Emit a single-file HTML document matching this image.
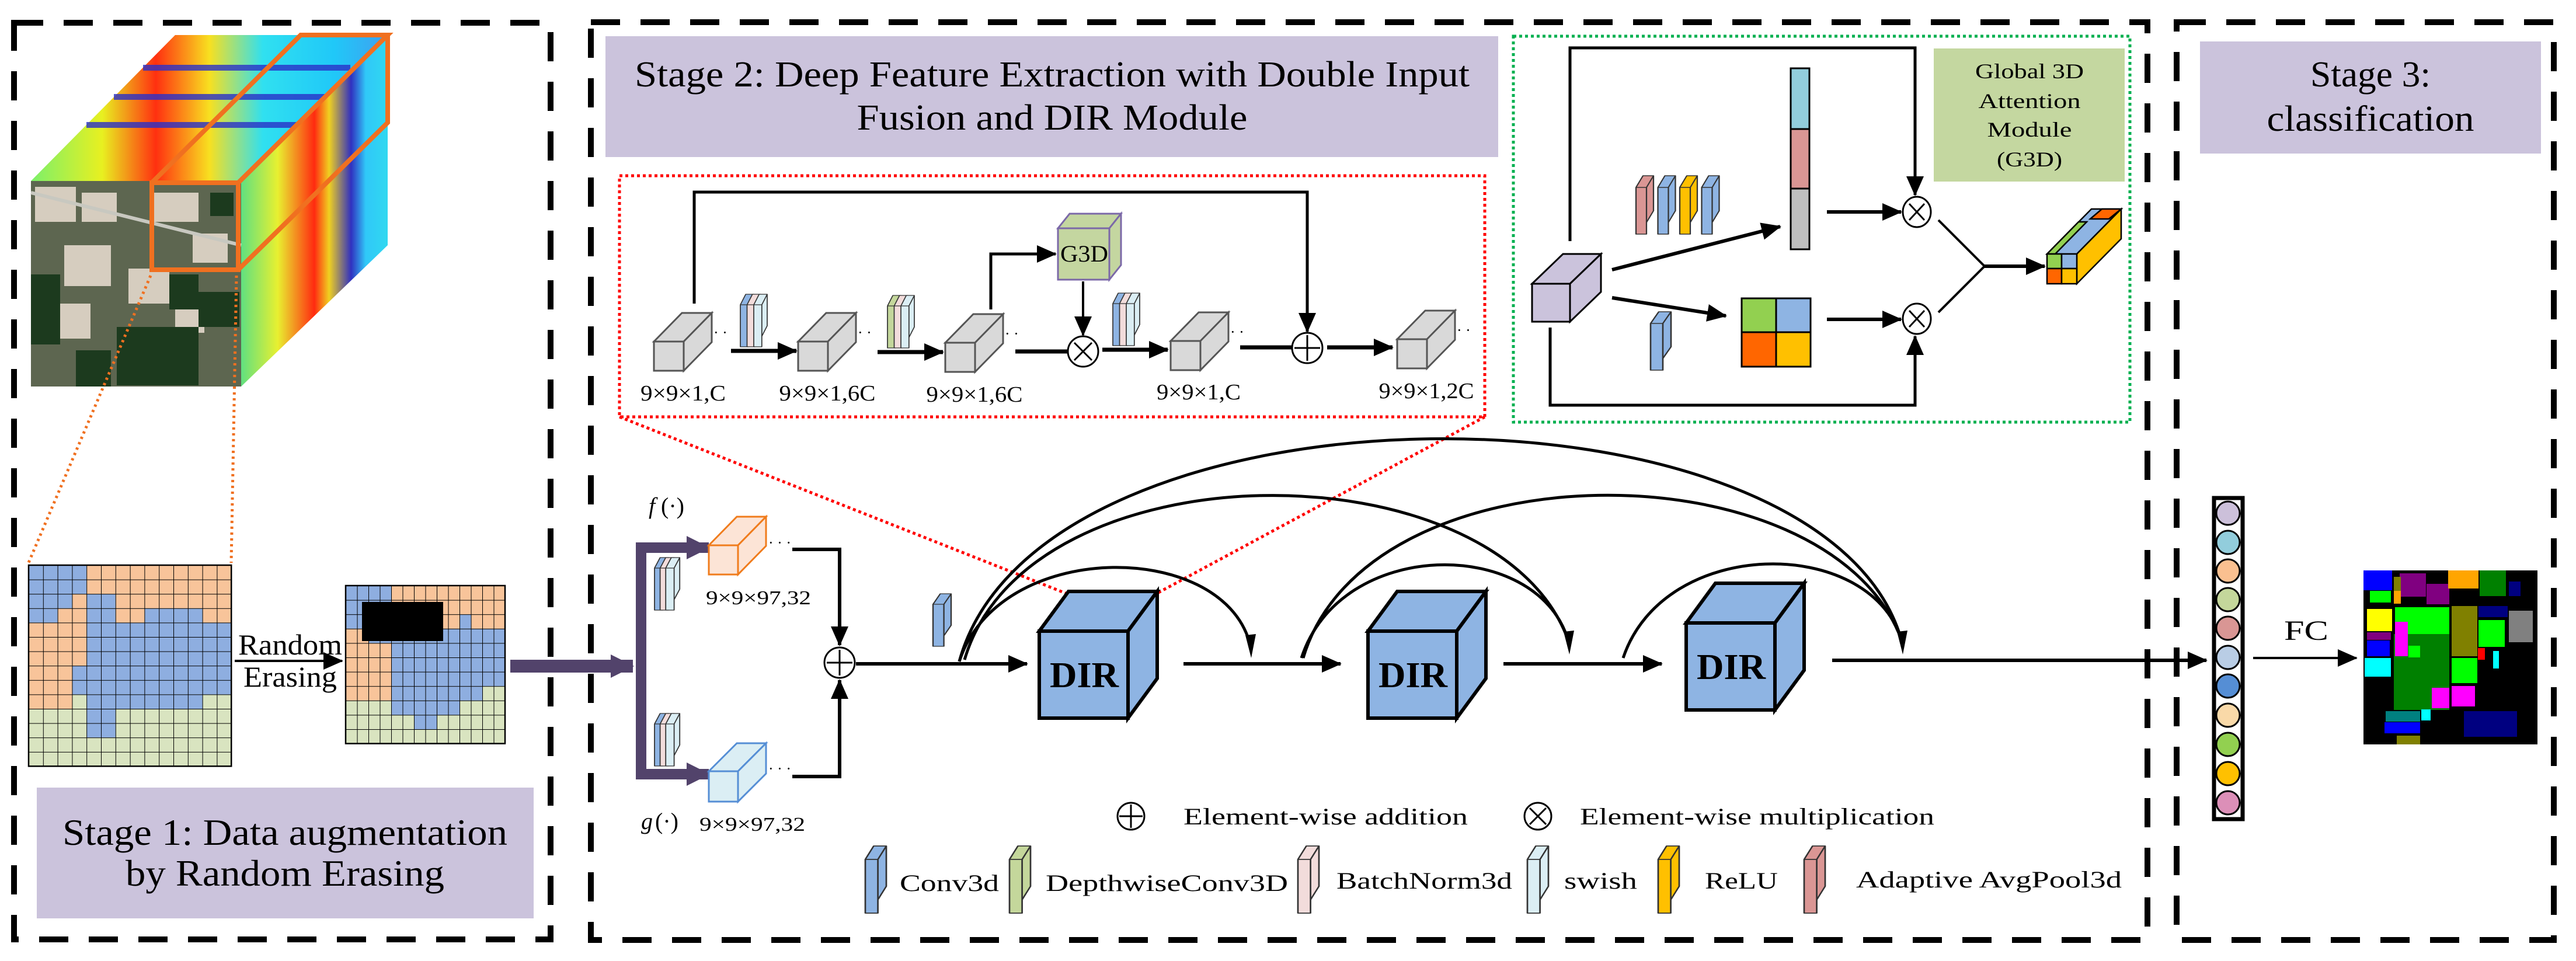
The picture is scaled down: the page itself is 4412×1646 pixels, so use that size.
<!DOCTYPE html>
<html><head><meta charset="utf-8"><style>html,body{margin:0;padding:0;background:#fff}svg{display:block}text{font-family:"Liberation Serif",serif;fill:#000}</style></head><body>
<svg width="4412" height="1646" viewBox="0 0 4412 1646" xmlns="http://www.w3.org/2000/svg">
<defs>
<marker id="ah" markerUnits="userSpaceOnUse" markerWidth="34" markerHeight="30" refX="32" refY="15" orient="auto"><path d="M0,0 L34,15 L0,30 Z" fill="#000"/></marker>
<marker id="ahp" markerUnits="userSpaceOnUse" markerWidth="40" markerHeight="40" refX="38" refY="20" orient="auto"><path d="M0,0 L40,20 L0,40 Z" fill="#52436b"/></marker>
<g id="slab"><path d="M0,0h12v80h-12z M0,0 l8,-20 h12 l-8,20z M12,0 l8,-20 v60 l-8,20z" stroke="#333" stroke-width="1.5" stroke-linejoin="round"/></g>
<g id="gcube" fill="#d9d9d9" stroke="#555" stroke-width="3"><path d="M0,0h51v50h-51z"/><path d="M0,0 L48,-49 L99,-49 L51,0 Z"/><path d="M51,0 L99,-49 L99,1 L51,50 Z"/></g>
<g id="dcube" fill="#8eb4e3" stroke="#000" stroke-width="6"><path d="M0,0 L50,-68 L202,-68 L152,0 Z"/><path d="M152,0 L202,-68 L202,81 L152,149 Z"/><path d="M0,0h152v149h-152z"/></g>
<pattern id="g1" patternUnits="userSpaceOnUse" x="49" y="968" width="24.8" height="24.6"><path d="M0,0H24.8M0,0V24.6" stroke="#000" stroke-width="2" fill="none"/></pattern>
<pattern id="g2" patternUnits="userSpaceOnUse" x="592" y="1003" width="19.5" height="24.6"><path d="M0,0H19.5M0,0V24.6" stroke="#000" stroke-width="2" fill="none"/></pattern>
<linearGradient id="topg" x1="0" y1="0" x2="1" y2="0"><stop offset="0" stop-color="#7cf06a"/><stop offset="0.2" stop-color="#e8f020"/><stop offset="0.35" stop-color="#ff3010"/><stop offset="0.5" stop-color="#f8e020"/><stop offset="0.65" stop-color="#30e0f0"/><stop offset="0.85" stop-color="#20c8f8"/><stop offset="1" stop-color="#40a0f0"/></linearGradient>
<linearGradient id="rg" x1="0" y1="0" x2="1" y2="0"><stop offset="0" stop-color="#60e080"/><stop offset="0.25" stop-color="#e8f030"/><stop offset="0.5" stop-color="#ff2a10"/><stop offset="0.6" stop-color="#f0d020"/><stop offset="0.75" stop-color="#3030c0"/><stop offset="0.85" stop-color="#30c8f8"/><stop offset="1" stop-color="#30d8f0"/></linearGradient>
</defs>

<g fill="none" stroke="#000" stroke-width="10" stroke-dasharray="50 35">
<rect x="24" y="39" width="919" height="1570"/>
<rect x="1012" y="38" width="2666" height="1572"/>
<rect x="3728" y="38" width="646" height="1572"/>
</g>

<polygon points="53,310 300,60 664,60 413,310" fill="url(#topg)"/>
<g stroke="#2a30c8" stroke-width="10" opacity="0.8"><line x1="245" y1="116" x2="600" y2="116"/><line x1="195" y1="166" x2="560" y2="166"/><line x1="148" y1="214" x2="510" y2="214"/></g>
<polygon points="413,310 664,60 664,420 413,662" fill="url(#rg)"/>
<rect x="53" y="310" width="360" height="352" fill="#5d6650"/>
<g fill="#d6cdbf"><rect x="60" y="320" width="70" height="60"/><rect x="140" y="330" width="60" height="50"/><rect x="110" y="420" width="80" height="70"/><rect x="260" y="330" width="80" height="50"/><rect x="220" y="460" width="70" height="60"/><rect x="95" y="520" width="60" height="60"/><rect x="330" y="400" width="60" height="50"/><rect x="300" y="530" width="50" height="40"/></g>
<g fill="#1c3a1e"><rect x="53" y="470" width="50" height="120"/><rect x="200" y="560" width="140" height="100"/><rect x="290" y="470" width="50" height="60"/><rect x="360" y="330" width="40" height="40"/><rect x="340" y="500" width="70" height="60"/><rect x="130" y="600" width="60" height="62"/></g>
<line x1="53" y1="330" x2="413" y2="420" stroke="#c8c8c0" stroke-width="6"/>
<g fill="none" stroke="#f07020" stroke-width="8"><rect x="260" y="313" width="148" height="149"/><polyline points="260,313 515,60 664,60 408,313"/><polyline points="408,462 664,210 664,60"/></g>
<g stroke="#f07020" stroke-width="5" stroke-dasharray="4 6" fill="none"><line x1="258" y1="472" x2="48" y2="966"/><line x1="405" y1="472" x2="396" y2="964"/></g>

<rect x="49" y="968" width="347.2" height="344.4" fill="#d9e4c0"/>
<g fill="#8eaee0"><rect x="49" y="968" width="99.2" height="49.2"/><rect x="49" y="1017.2" width="74.4" height="24.6"/><rect x="148.2" y="1017.2" width="49.6" height="24.6"/><rect x="49" y="1041.8" width="49.6" height="24.6"/><rect x="148.2" y="1041.8" width="49.6" height="24.6"/><rect x="247.4" y="1041.8" width="99.2" height="24.6"/><rect x="148.2" y="1066.4" width="248" height="73.8"/><rect x="123.4" y="1140.2" width="272.8" height="49.2"/><rect x="148.2" y="1189.4" width="198.4" height="24.6"/><rect x="148.2" y="1214" width="49.6" height="49.2"/></g>
<g fill="#f8c49a"><rect x="148.2" y="968" width="248" height="49.2"/><rect x="123.4" y="1017.2" width="24.8" height="24.6"/><rect x="197.8" y="1017.2" width="198.4" height="24.6"/><rect x="98.6" y="1041.8" width="49.6" height="24.6"/><rect x="197.8" y="1041.8" width="49.6" height="24.6"/><rect x="346.6" y="1041.8" width="49.6" height="24.6"/><rect x="49" y="1066.4" width="99.2" height="73.8"/><rect x="49" y="1140.2" width="74.4" height="73.8"/></g>
<rect x="49" y="968" width="347.2" height="344.4" fill="url(#g1)" stroke="#000" stroke-width="2.5"/>

<text x="497" y="1121" font-size="50" text-anchor="middle" textLength="178" lengthAdjust="spacingAndGlyphs">Random</text>
<text x="497" y="1176" font-size="50" text-anchor="middle" textLength="160" lengthAdjust="spacingAndGlyphs">Erasing</text>
<line x1="402" y1="1132" x2="586" y2="1132" stroke="#000" stroke-width="4" marker-end="url(#ah)"/>

<rect x="592" y="1003" width="273" height="270.6" fill="#d9e4c0"/>
<g fill="#8eaee0"><rect x="592" y="1003" width="78" height="73.8"/><rect x="787" y="1052.2" width="19.5" height="24.6"/><rect x="631" y="1076.8" width="234" height="24.6"/><rect x="670" y="1101.4" width="195" height="73.8"/><rect x="670" y="1175.2" width="156" height="24.6"/><rect x="670" y="1199.8" width="117" height="24.6"/><rect x="709" y="1224.4" width="39" height="24.6"/></g>
<g fill="#f8c49a"><rect x="670" y="1003" width="195" height="49.2"/><rect x="670" y="1052.2" width="117" height="24.6"/><rect x="806.5" y="1052.2" width="58.5" height="24.6"/><rect x="592" y="1076.8" width="39" height="24.6"/><rect x="592" y="1101.4" width="78" height="98.4"/></g>
<rect x="592" y="1003" width="273" height="270.6" fill="url(#g2)" stroke="#000" stroke-width="2.5"/>
<rect x="620" y="1031" width="139" height="67" fill="#000"/>

<rect x="63" y="1349" width="851" height="224" fill="#cbc3dc"/>
<text x="488" y="1447" font-size="64" text-anchor="middle" textLength="762" lengthAdjust="spacingAndGlyphs">Stage 1: Data augmentation</text>
<text x="488" y="1517" font-size="64" text-anchor="middle" textLength="546" lengthAdjust="spacingAndGlyphs">by Random Erasing</text>

<line x1="874" y1="1141" x2="1084" y2="1141" stroke="#52436b" stroke-width="22" marker-end="url(#ahp)"/>
<rect x="1089" y="929" width="18" height="406" fill="#52436b"/>
<line x1="1089" y1="938" x2="1214" y2="938" stroke="#52436b" stroke-width="18" marker-end="url(#ahp)"/>
<line x1="1089" y1="1326" x2="1214" y2="1326" stroke="#52436b" stroke-width="18" marker-end="url(#ahp)"/>

<rect x="1037" y="62" width="1529" height="207" fill="#cbc3dc"/>
<text x="1802" y="148" font-size="62" text-anchor="middle" textLength="1430" lengthAdjust="spacingAndGlyphs">Stage 2: Deep Feature Extraction with Double Input</text>
<text x="1802" y="222" font-size="62" text-anchor="middle" textLength="669" lengthAdjust="spacingAndGlyphs">Fusion and DIR Module</text>

<rect x="1061" y="301" width="1482" height="413" fill="none" stroke="#f00" stroke-width="5" stroke-dasharray="5 5"/>
<g stroke="#f00" stroke-width="5" stroke-dasharray="5 5"><line x1="1061" y1="714" x2="1825" y2="1016"/><line x1="2543" y1="714" x2="1982" y2="1016"/></g>

<use href="#gcube" transform="translate(1120,585)"/>
<use href="#gcube" transform="translate(1367,585)"/>
<use href="#gcube" transform="translate(1619,587)"/>
<use href="#gcube" transform="translate(2005,584)"/>
<use href="#gcube" transform="translate(2393,581)"/>
<g font-size="26" fill="#000"><text x="1222" y="578">· ·</text><text x="1469" y="578">· ·</text><text x="1721" y="580">· ·</text><text x="2107" y="577">· ·</text><text x="2495" y="574">· ·</text></g>
<g transform="translate(1268,522) scale(1.15,0.9)"><use href="#slab" fill="#8eb4e3"/><use href="#slab" x="10" fill="#f2dcdb"/><use href="#slab" x="20" fill="#dbeef4"/></g>
<g transform="translate(1520,524) scale(1.15,0.9)"><use href="#slab" fill="#c4d79b"/><use href="#slab" x="10" fill="#f2dcdb"/><use href="#slab" x="20" fill="#dbeef4"/></g>
<g transform="translate(1906,520) scale(1.15,0.9)"><use href="#slab" fill="#8eb4e3"/><use href="#slab" x="10" fill="#f2dcdb"/><use href="#slab" x="20" fill="#dbeef4"/></g>
<g stroke="#000" stroke-width="7" fill="none">
<line x1="1252" y1="601" x2="1364" y2="601" marker-end="url(#ah)"/>
<line x1="1503" y1="603" x2="1615" y2="603" marker-end="url(#ah)"/>
<line x1="1739" y1="602" x2="1829" y2="602"/>
<line x1="1888" y1="599" x2="2000" y2="599" marker-end="url(#ah)"/>
<line x1="2124" y1="595" x2="2213" y2="595"/>
<line x1="2273" y1="595" x2="2385" y2="595" marker-end="url(#ah)"/>
<polyline points="1697,530 1697,435 1808,435" marker-end="url(#ah)" stroke-width="5"/>
<line x1="1855" y1="482" x2="1855" y2="574" marker-end="url(#ah)" stroke-width="4"/>
<polyline points="1189,520 1189,329 2239,329 2239,568" marker-end="url(#ah)" stroke-width="5"/>
</g>
<g fill="#fff" stroke="#000" stroke-width="3"><circle cx="1855" cy="602" r="26"/><circle cx="2239" cy="596" r="26"/></g>
<g stroke="#000" stroke-width="3"><line x1="1840" y1="587" x2="1870" y2="617"/><line x1="1870" y1="587" x2="1840" y2="617"/><line x1="2239" y1="574" x2="2239" y2="618"/><line x1="2217" y1="596" x2="2261" y2="596"/></g>
<g fill="#c4d6a0" stroke="#7b68a8" stroke-width="3"><path d="M1812,391 L1832,366 L1920,366 L1900,391 Z"/><path d="M1900,391 L1920,366 L1920,454 L1900,479 Z"/><rect x="1812" y="391" width="88" height="88"/></g>
<text x="1857" y="448" font-size="40" text-anchor="middle" textLength="82" lengthAdjust="spacingAndGlyphs">G3D</text>
<g font-size="38" text-anchor="middle"><text x="1170" y="686" textLength="146" lengthAdjust="spacingAndGlyphs">9×9×1,C</text><text x="1417" y="686" textLength="165" lengthAdjust="spacingAndGlyphs">9×9×1,6C</text><text x="1669" y="688" textLength="165" lengthAdjust="spacingAndGlyphs">9×9×1,6C</text><text x="2053" y="684" textLength="144" lengthAdjust="spacingAndGlyphs">9×9×1,C</text><text x="2443" y="682" textLength="163" lengthAdjust="spacingAndGlyphs">9×9×1,2C</text></g>

<rect x="2592" y="62" width="1056" height="661" fill="none" stroke="#00b050" stroke-width="5" stroke-dasharray="5 5"/>
<rect x="3312" y="83" width="327" height="228" fill="#c4d7a0"/>
<g font-size="36" text-anchor="middle"><text x="3476" y="134" textLength="186" lengthAdjust="spacingAndGlyphs">Global 3D</text><text x="3476" y="185" textLength="175" lengthAdjust="spacingAndGlyphs">Attention</text><text x="3476" y="234" textLength="145" lengthAdjust="spacingAndGlyphs">Module</text><text x="3476" y="285" textLength="112" lengthAdjust="spacingAndGlyphs">(G3D)</text></g>
<g fill="#cbc3dc" stroke="#000" stroke-width="3"><path d="M2624,486 L2677,435 L2742,435 L2689,486 Z"/><path d="M2689,486 L2742,435 L2742,500 L2689,551 Z"/><rect x="2624" y="486" width="65" height="65"/></g>
<g stroke="#000" stroke-width="6" fill="none">
<polyline points="2689,413 2689,82 3280,82 3280,334" marker-end="url(#ah)" stroke-width="5"/>
<polyline points="2655,561 2655,694 3280,694 3280,576" marker-end="url(#ah)" stroke-width="5"/>
<line x1="2761" y1="462" x2="3049" y2="388" marker-end="url(#ah)"/>
<line x1="2761" y1="510" x2="2956" y2="541" marker-end="url(#ah)"/>
<line x1="3129" y1="363" x2="3256" y2="363" marker-end="url(#ah)"/>
<line x1="3129" y1="547" x2="3256" y2="547" marker-end="url(#ah)"/>
<polyline points="3320,377 3399,456 3320,535" stroke-width="4"/>
<line x1="3399" y1="456" x2="3502" y2="456" marker-end="url(#ah)"/>
</g>
<g stroke="#000" stroke-width="3"><rect x="3067" y="117" width="32" height="104" fill="#92cddc"/><rect x="3067" y="221" width="32" height="102" fill="#da9694"/><rect x="3067" y="323" width="32" height="104" fill="#bfbfbf"/></g>
<g fill="#fff" stroke="#000" stroke-width="3"><ellipse cx="3283" cy="363" rx="24" ry="26"/><ellipse cx="3283" cy="546" rx="24" ry="26"/></g>
<g stroke="#000" stroke-width="3"><line x1="3270" y1="349" x2="3296" y2="377"/><line x1="3296" y1="349" x2="3270" y2="377"/><line x1="3270" y1="532" x2="3296" y2="560"/><line x1="3296" y1="532" x2="3270" y2="560"/></g>
<g transform="translate(2802,321) scale(1.5,1)"><use href="#slab" fill="#da9694"/><use href="#slab" x="25" fill="#8eb4e3"/><use href="#slab" x="50" fill="#ffc000"/><use href="#slab" x="75" fill="#8eb4e3"/></g>
<g transform="translate(2827,554) scale(1.75,1)"><use href="#slab" fill="#8eb4e3"/></g>
<g stroke="#000" stroke-width="3"><rect x="2983" y="511" width="59" height="58" fill="#92d050"/><rect x="3042" y="511" width="59" height="58" fill="#8eb4e3"/><rect x="2983" y="569" width="59" height="59" fill="#ff6600"/><rect x="3042" y="569" width="59" height="59" fill="#ffc000"/></g>
<g stroke="#000" stroke-width="2.5">
<path d="M3506,435 L3582,358 L3633,358 L3557,435 Z" fill="#8eb4e3"/>
<path d="M3506,435 L3560,380 L3574,380 L3520,435 Z" fill="#92d050"/>
<path d="M3557,435 L3633,358 L3633,409 L3557,486 Z" fill="#ffc000"/>
<path d="M3580,375 L3600,358 L3633,358 L3612,375 Z" fill="#ff6600"/>
<rect x="3506" y="435" width="25" height="25" fill="#92d050"/><rect x="3531" y="435" width="26" height="25" fill="#8eb4e3"/><rect x="3506" y="460" width="25" height="26" fill="#ff6600"/><rect x="3531" y="460" width="26" height="26" fill="#ffc000"/>
</g>

<text x="1111" y="880" font-size="40" font-style="italic">f</text><text x="1132" y="880" font-size="40">(·)</text>
<text x="1098" y="1420" font-size="40" font-style="italic">g</text><text x="1122" y="1420" font-size="40">(·)</text>
<g transform="translate(1121,973) scale(1.2,0.9)"><use href="#slab" fill="#8eb4e3"/><use href="#slab" x="8" fill="#f2dcdb"/><use href="#slab" x="16" fill="#dbeef4"/></g>
<g transform="translate(1121,1240) scale(1.2,0.9)"><use href="#slab" fill="#8eb4e3"/><use href="#slab" x="8" fill="#f2dcdb"/><use href="#slab" x="16" fill="#dbeef4"/></g>
<g fill="#fce4d6" stroke="#f07c1c" stroke-width="3"><path d="M1214,934 L1262,885 L1312,885 L1264,934 Z"/><path d="M1264,934 L1312,885 L1312,935 L1264,984 Z"/><rect x="1214" y="934" width="50" height="50"/></g>
<g fill="#dbeef4" stroke="#558ed5" stroke-width="3"><path d="M1214,1321 L1262,1273 L1312,1273 L1264,1321 Z"/><path d="M1264,1321 L1312,1273 L1312,1325 L1264,1373 Z"/><rect x="1214" y="1321" width="50" height="52"/></g>
<g font-size="26"><text x="1316" y="938">· · ·</text><text x="1316" y="1325">· · ·</text></g>
<g font-size="34"><text x="1209" y="1035" textLength="180" lengthAdjust="spacingAndGlyphs">9×9×97,32</text><text x="1198" y="1423" textLength="181" lengthAdjust="spacingAndGlyphs">9×9×97,32</text></g>
<g stroke="#000" stroke-width="6" fill="none">
<polyline points="1357,941 1438,941 1438,1105" marker-end="url(#ah)"/>
<polyline points="1357,1330 1438,1330 1438,1165" marker-end="url(#ah)"/>
<line x1="1466" y1="1137" x2="1759" y2="1137" marker-end="url(#ah)"/>
<line x1="2027" y1="1137" x2="2296" y2="1137" marker-end="url(#ah)"/>
<line x1="2575" y1="1137" x2="2846" y2="1137" marker-end="url(#ah)"/>
<line x1="3138" y1="1131" x2="3779" y2="1131" marker-end="url(#ah)"/>
</g>
<circle cx="1438" cy="1135" r="26" fill="#fff" stroke="#000" stroke-width="3"/>
<g stroke="#000" stroke-width="3"><line x1="1438" y1="1113" x2="1438" y2="1157"/><line x1="1416" y1="1135" x2="1460" y2="1135"/></g>
<g transform="translate(1598,1035) scale(1.55,0.9)"><use href="#slab" fill="#8eb4e3"/></g>

<use href="#dcube" transform="translate(1780,1081)"/>
<use href="#dcube" transform="translate(2343,1081)"/>
<use href="#dcube" transform="translate(2888,1067)"/>
<g font-size="62" font-weight="bold" text-anchor="middle"><text x="1857" y="1177" textLength="118" lengthAdjust="spacingAndGlyphs">DIR</text><text x="2420" y="1177" textLength="118" lengthAdjust="spacingAndGlyphs">DIR</text><text x="2965" y="1163" textLength="118" lengthAdjust="spacingAndGlyphs">DIR</text></g>

<g fill="none" stroke="#000" stroke-width="5">
<path d="M1643,1133 C1710,924 2090,924 2140,1100"/>
<path d="M2229,1127 C2296,920 2630,920 2685,1094"/>
<path d="M2780,1127 C2850,918 3200,918 3256,1094"/>
<path d="M1652,1130 C1760,761 2560,761 2685,1094"/>
<path d="M2232,1127 C2340,761 3130,761 3256,1094"/>
<path d="M1643,1133 C1780,631 3120,631 3256,1094"/>
</g>
<g fill="#000"><polygon points="2133,1088 2151,1086 2143,1127"/><polygon points="2678,1082 2696,1080 2688,1121"/><polygon points="3249,1082 3267,1080 3259,1121"/></g>

<circle cx="1937" cy="1398" r="23" fill="#fff" stroke="#000" stroke-width="3"/>
<g stroke="#000" stroke-width="3"><line x1="1937" y1="1378" x2="1937" y2="1418"/><line x1="1917" y1="1398" x2="1957" y2="1398"/></g>
<text x="2027" y="1412" font-size="40" textLength="487" lengthAdjust="spacingAndGlyphs">Element-wise addition</text>
<circle cx="2634" cy="1398" r="23" fill="#fff" stroke="#000" stroke-width="3"/>
<g stroke="#000" stroke-width="3"><line x1="2620" y1="1384" x2="2648" y2="1412"/><line x1="2648" y1="1384" x2="2620" y2="1412"/></g>
<text x="2706" y="1412" font-size="40" textLength="607" lengthAdjust="spacingAndGlyphs">Element-wise multiplication</text>
<g transform="translate(1482,1472) scale(1.8,1.15)"><use href="#slab" fill="#8eb4e3"/></g>
<g transform="translate(1729,1472) scale(1.8,1.15)"><use href="#slab" fill="#c4d79b"/></g>
<g transform="translate(2223,1472) scale(1.8,1.15)"><use href="#slab" fill="#f2dcdb"/></g>
<g transform="translate(2616,1472) scale(1.8,1.15)"><use href="#slab" fill="#dbeef4"/></g>
<g transform="translate(2840,1472) scale(1.8,1.15)"><use href="#slab" fill="#ffc000"/></g>
<g transform="translate(3090,1472) scale(1.8,1.15)"><use href="#slab" fill="#da9694"/></g>
<g font-size="40"><text x="1541" y="1526" textLength="170" lengthAdjust="spacingAndGlyphs">Conv3d</text><text x="1791" y="1526" textLength="415" lengthAdjust="spacingAndGlyphs">DepthwiseConv3D</text><text x="2289" y="1522" textLength="301" lengthAdjust="spacingAndGlyphs">BatchNorm3d</text><text x="2679" y="1522" textLength="125" lengthAdjust="spacingAndGlyphs">swish</text><text x="2920" y="1522" textLength="125" lengthAdjust="spacingAndGlyphs">ReLU</text><text x="3179" y="1520" textLength="455" lengthAdjust="spacingAndGlyphs">Adaptive AvgPool3d</text></g>

<rect x="3768" y="71" width="584" height="192" fill="#cbc3dc"/>
<g font-size="62" text-anchor="middle"><text x="4060" y="148" textLength="206" lengthAdjust="spacingAndGlyphs">Stage 3:</text><text x="4060" y="224" textLength="355" lengthAdjust="spacingAndGlyphs">classification</text></g>
<rect x="3792" y="853" width="49" height="550" fill="#fff" stroke="#000" stroke-width="7"/>
<g stroke="#000" stroke-width="3"><ellipse cx="3816" cy="879" rx="20" ry="20" fill="#ccc0da"/><ellipse cx="3816" cy="929" rx="20" ry="20" fill="#92cddc"/><ellipse cx="3816" cy="978" rx="20" ry="20" fill="#fac090"/><ellipse cx="3816" cy="1027" rx="20" ry="20" fill="#c4d79b"/><ellipse cx="3816" cy="1076" rx="20" ry="20" fill="#d99694"/><ellipse cx="3816" cy="1126" rx="20" ry="20" fill="#b9cde5"/><ellipse cx="3816" cy="1175" rx="20" ry="20" fill="#558ed5"/><ellipse cx="3816" cy="1225" rx="20" ry="20" fill="#f9d9a8"/><ellipse cx="3816" cy="1275" rx="20" ry="20" fill="#92d050"/><ellipse cx="3816" cy="1325" rx="20" ry="20" fill="#ffc000"/><ellipse cx="3816" cy="1375" rx="20" ry="20" fill="#dc8fb8"/></g>
<line x1="3859" y1="1127" x2="4036" y2="1127" stroke="#000" stroke-width="4" marker-end="url(#ah)"/>
<text x="3950" y="1096" font-size="48" text-anchor="middle" textLength="76" lengthAdjust="spacingAndGlyphs">FC</text>
<rect x="4048" y="977" width="298" height="298" fill="#000"/>
<rect x="4048" y="977" width="49" height="34" fill="#0000ff"/>
<rect x="4059" y="1012" width="36" height="20" fill="#00ff00"/>
<rect x="4110" y="982" width="45" height="40" fill="#800080"/>
<rect x="4156" y="1000" width="39" height="35" fill="#800080"/>
<rect x="4100" y="988" width="12" height="30" fill="#808000"/>
<rect x="4100" y="1012" width="12" height="22" fill="#ffa500"/>
<rect x="4193" y="977" width="52" height="31" fill="#ffa500"/>
<rect x="4247" y="977" width="45" height="44" fill="#008000"/>
<rect x="4297" y="996" width="20" height="25" fill="#000080"/>
<rect x="4054" y="1043" width="43" height="38" fill="#ffff00"/>
<rect x="4054" y="1083" width="41" height="13" fill="#800080"/>
<rect x="4054" y="1097" width="39" height="27" fill="#0000ff"/>
<rect x="4050" y="1127" width="45" height="32" fill="#00ffff"/>
<rect x="4102" y="1040" width="93" height="46" fill="#00ff00"/>
<rect x="4100" y="1086" width="95" height="130" fill="#008000"/>
<rect x="4102" y="1065" width="22" height="59" fill="#ff00ff"/>
<rect x="4125" y="1106" width="20" height="20" fill="#00ff00"/>
<rect x="4199" y="1038" width="44" height="86" fill="#808000"/>
<rect x="4245" y="1038" width="50" height="19" fill="#000080"/>
<rect x="4245" y="1062" width="45" height="46" fill="#00ff00"/>
<rect x="4297" y="1046" width="41" height="54" fill="#808080"/>
<rect x="4199" y="1127" width="44" height="43" fill="#00ff00"/>
<rect x="4165" y="1178" width="30" height="35" fill="#ff00ff"/>
<rect x="4199" y="1175" width="40" height="35" fill="#ff00ff"/>
<rect x="4086" y="1218" width="59" height="18" fill="#008080"/>
<rect x="4084" y="1237" width="61" height="19" fill="#0000ff"/>
<rect x="4147" y="1215" width="16" height="19" fill="#00ffff"/>
<rect x="4220" y="1218" width="91" height="44" fill="#000080"/>
<rect x="4105" y="1260" width="40" height="15" fill="#808000"/>
<rect x="4244" y="1110" width="12" height="20" fill="#ff0000"/>
<rect x="4270" y="1115" width="10" height="30" fill="#00ffff"/>
</svg>
</body></html>
